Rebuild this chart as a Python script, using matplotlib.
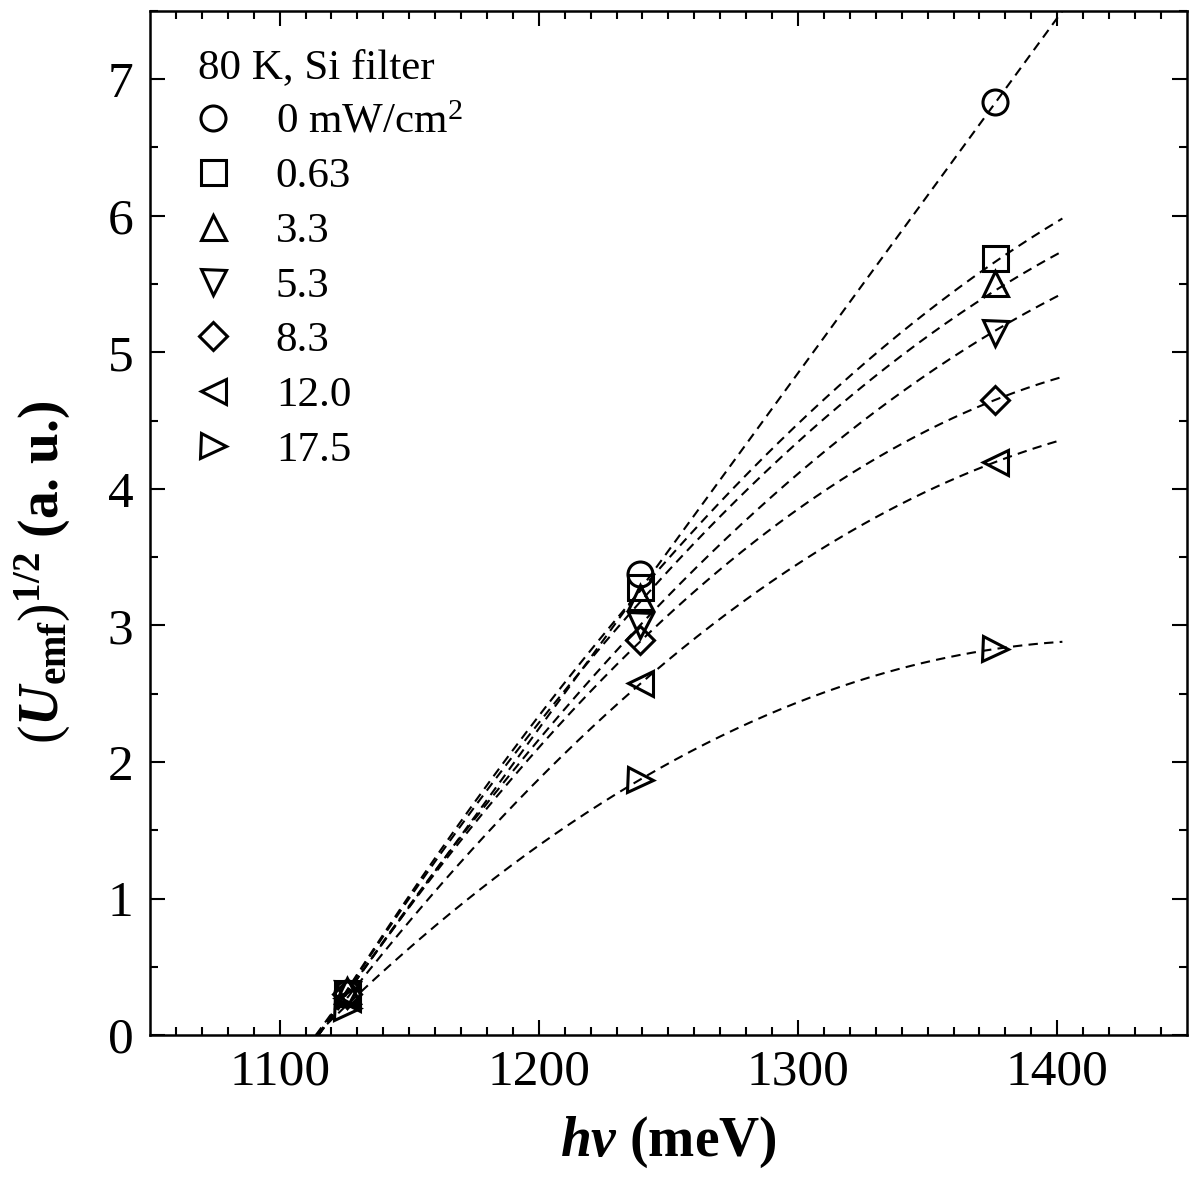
import matplotlib
matplotlib.use("Agg")
import matplotlib.pyplot as plt
import numpy as np

plt.rcParams["font.family"] = ["Liberation Serif", "DejaVu Serif"]
plt.rcParams["mathtext.fontset"] = "custom"
plt.rcParams["mathtext.rm"] = "Liberation Serif"
plt.rcParams["mathtext.it"] = "Liberation Serif:italic"
plt.rcParams["mathtext.bf"] = "Liberation Serif:bold"
plt.rcParams["mathtext.bfit"] = "Liberation Serif:bold:italic"

# photon energies of the measured points (meV)
photon_energy = [1126, 1239, 1376]

intensity_labels = ["0 mW/cm$^2$", "0.63", "3.3", "5.3", "8.3", "12.0", "17.5"]
markers = ["o", "s", "^", "v", "D", "<", ">"]

# sqrt(U_emf) at each photon energy, one list per illumination intensity
u_0 = [0.31, 3.38, 6.83]
u_063 = [0.31, 3.28, 5.69]
u_33 = [0.33, 3.21, 5.51]
u_53 = [0.30, 3.00, 5.14]
u_83 = [0.30, 2.89, 4.65]
u_120 = [0.27, 2.58, 4.20]
u_175 = [0.20, 1.87, 2.83]
series = [u_0, u_063, u_33, u_53, u_83, u_120, u_175]

# fitted curves: zero crossing, value at 1239 meV, value at end
fit_x0 = [1114, 1115, 1115, 1115, 1115, 1115, 1114]
fit_mid = [3.26, 3.25, 3.17, 3.00, 2.88, 2.57, 1.87]
fit_end = [7.50, 5.98, 5.74, 5.43, 4.82, 4.36, 2.88]
fit_x_mid = 1239
fit_x_end = 1402

fig = plt.figure(figsize=(12, 11.77), dpi=100)
ax = fig.add_axes([0.125, 0.1206, 0.864, 0.8701])

for i, yvals in enumerate(series):
    xa = [fit_x0[i], fit_x_mid, fit_x_end]
    ya = [0.0, fit_mid[i], fit_end[i]]
    coef = np.polyfit(xa, ya, 2)
    xs = np.linspace(fit_x0[i], fit_x_end, 300)
    ax.plot(xs, np.polyval(coef, xs), color="black", lw=1.5,
            dashes=(4.5, 3), zorder=2)

for i, yvals in enumerate(series):
    ax.plot(photon_energy, yvals, linestyle="none", marker=markers[i],
            markersize=18 if markers[i] != "D" else 14, markerfacecolor="none",
            markeredgecolor="black", markeredgewidth=2.2,
            label=intensity_labels[i], zorder=3)

ax.set_xlim(1050, 1450)
ax.set_ylim(0, 7.5)
ax.set_xticks([1100, 1200, 1300, 1400])
ax.set_xticks(np.arange(1060, 1450, 10), minor=True)
ax.set_yticks(range(0, 8))
ax.set_yticks(np.arange(0, 7.6, 0.5), minor=True)

ax.tick_params(which="both", direction="in", top=True, right=True, width=1.5)
ax.tick_params(which="major", length=11, labelsize=37)
ax.tick_params(which="minor", length=5.5)
ax.tick_params(axis="x", pad=10)
ax.tick_params(axis="y", pad=12)
for sp in ax.spines.values():
    sp.set_linewidth(1.8)

ax.set_xlabel(r"$\mathbfit{h\nu}$ (meV)", fontsize=40, fontweight="bold", labelpad=14)
fig.text(0.036, 0.514, r"$(\mathbfit{U}_{\mathbf{emf}})^{\mathbf{1/2}}$ (a. u.)",
         rotation=90, fontsize=40, fontweight="bold", ha="center", va="center")

leg = ax.legend(loc="upper left", bbox_to_anchor=(0.03, 0.98), frameon=False,
                fontsize=31, title="80 K, Si filter", title_fontsize=31,
                handlelength=0.7, handletextpad=1.1, labelspacing=0.36,
                borderaxespad=0, alignment="left", markerscale=1.0)

fig.savefig("out.png", dpi=100)
